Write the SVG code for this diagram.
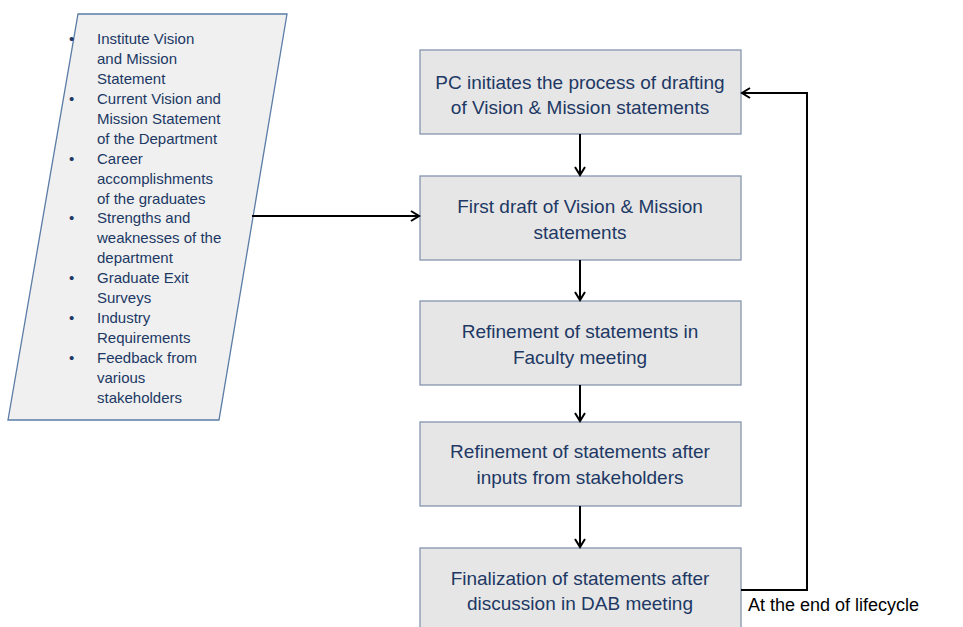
<svg xmlns="http://www.w3.org/2000/svg" width="963" height="627" viewBox="0 0 963 627">
<style>
.box{fill:#e7e6e6;stroke:#8496b0;stroke-width:1.3}
.para{fill:#f0f0f0;stroke:#5a7ca6;stroke-width:1.3}
.t{font-family:"Liberation Sans",Arial,sans-serif;font-size:19px;fill:#203864;text-anchor:middle}
.l{font-family:"Liberation Sans",Arial,sans-serif;font-size:15px;fill:#203864}
.c{fill:none;stroke:#000;stroke-width:2}
.lab{font-family:"Liberation Sans",Arial,sans-serif;font-size:18px;fill:#000}
</style>
<defs>
<marker id="ah" markerWidth="12" markerHeight="12" refX="10" refY="6" orient="auto" markerUnits="userSpaceOnUse">
<path d="M2,1 L10,6 L2,11" fill="none" stroke="#000" stroke-width="2"/>
</marker>
</defs>
<rect width="963" height="627" fill="#fff"/>
<g id="inputs">
<polygon class="para" points="78,14 287,14 219,420 8,420"/>
<g class="l">
<text x="69" y="44">•</text><text x="97" y="44">Institute Vision</text>
<text x="97" y="64">and Mission</text>
<text x="97" y="84">Statement</text>
<text x="69" y="104">•</text><text x="97" y="104">Current Vision and</text>
<text x="97" y="124">Mission Statement</text>
<text x="97" y="144">of the Department</text>
<text x="69" y="164">•</text><text x="97" y="164">Career</text>
<text x="97" y="184">accomplishments</text>
<text x="97" y="204">of the graduates</text>
<text x="69" y="223">•</text><text x="97" y="223">Strengths and</text>
<text x="97" y="243">weaknesses of the</text>
<text x="97" y="263">department</text>
<text x="69" y="283">•</text><text x="97" y="283">Graduate Exit</text>
<text x="97" y="303">Surveys</text>
<text x="69" y="323">•</text><text x="97" y="323">Industry</text>
<text x="97" y="343">Requirements</text>
<text x="69" y="363">•</text><text x="97" y="363">Feedback from</text>
<text x="97" y="383">various</text>
<text x="97" y="403">stakeholders</text>
</g>
</g>
<g id="n1">
<rect class="box" x="420" y="50" width="321" height="84"/>
<text class="t" x="580" y="89">PC initiates the process of drafting</text>
<text class="t" x="580" y="114">of Vision &amp; Mission statements</text>
</g>
<g id="n2">
<rect class="box" x="420" y="176" width="321" height="84"/>
<text class="t" x="580" y="213">First draft of Vision &amp; Mission</text>
<text class="t" x="580" y="239">statements</text>
</g>
<g id="n3">
<rect class="box" x="420" y="301" width="321" height="84"/>
<text class="t" x="580" y="338">Refinement of statements in</text>
<text class="t" x="580" y="364">Faculty meeting</text>
</g>
<g id="n4">
<rect class="box" x="420" y="422" width="321" height="84"/>
<text class="t" x="580" y="458">Refinement of statements after</text>
<text class="t" x="580" y="484">inputs from stakeholders</text>
</g>
<g id="n5">
<rect class="box" x="420" y="548" width="321" height="84"/>
<text class="t" x="580" y="585">Finalization of statements after</text>
<text class="t" x="580" y="610">discussion in DAB meeting</text>
</g>
<g id="connectors">
<line class="c" x1="580" y1="134" x2="580" y2="175" marker-end="url(#ah)"/>
<line class="c" x1="580" y1="260" x2="580" y2="300" marker-end="url(#ah)"/>
<line class="c" x1="580" y1="385" x2="580" y2="421" marker-end="url(#ah)"/>
<line class="c" x1="580" y1="506" x2="580" y2="547" marker-end="url(#ah)"/>
<line class="c" x1="252" y1="216" x2="419" y2="216" marker-end="url(#ah)"/>
<polyline class="c" points="741,590 807,590 807,93 742,93" marker-end="url(#ah)"/>
<text class="lab" x="748" y="611">At the end of lifecycle</text>
</g>
</svg>
